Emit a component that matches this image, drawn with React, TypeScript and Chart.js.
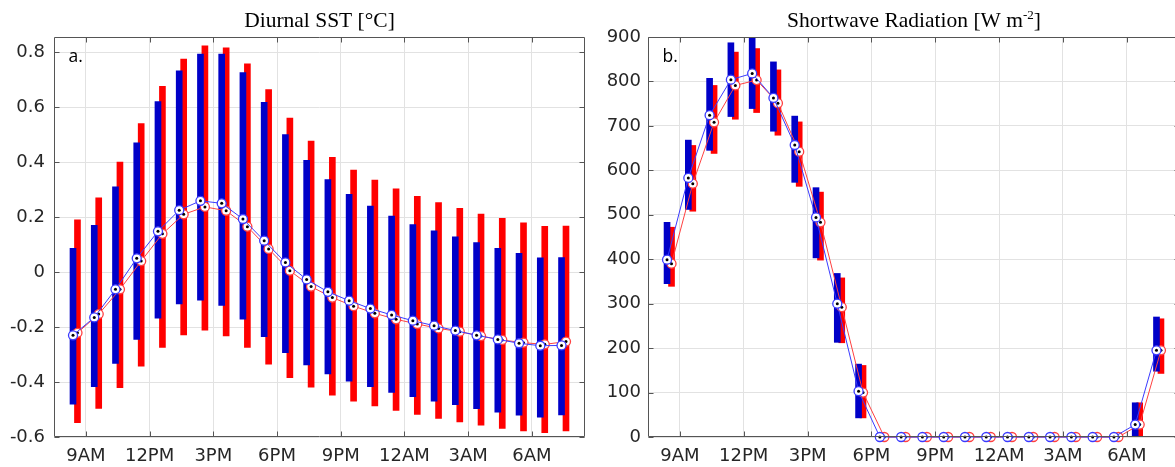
import React, { useEffect, useRef } from "react";
import { Chart, registerables } from "chart.js";

Chart.register(...registerables);

// Hourly bin centres, in hours from midnight of the first day (8:30 AM .. 7:30 AM next day)
const HOURS = [
  8.5, 9.5, 10.5, 11.5, 12.5, 13.5, 14.5, 15.5, 16.5, 17.5, 18.5, 19.5,
  20.5, 21.5, 22.5, 23.5, 24.5, 25.5, 26.5, 27.5, 28.5, 29.5, 30.5, 31.5,
];
// Paired series are drawn slightly either side of each bin centre
const PAIR_SHIFT = 0.105;

const X_TICKS = [9, 12, 15, 18, 21, 24, 27, 30];
const X_TICK_LABELS = ["9AM", "12PM", "3PM", "6PM", "9PM", "12AM", "3AM", "6AM"];

// ---- Diurnal SST [°C] ----
const SST_TICKS = [-0.6, -0.4, -0.2, 0, 0.2, 0.4, 0.6, 0.8];
const SST_TICK_LABELS = ["-0.6", "-0.4", "-0.2", "0", "0.2", "0.4", "0.6", "0.8"];
const SST_BLUE_MEAN = [
  -0.23, -0.165, -0.063, 0.05, 0.148, 0.225, 0.259, 0.25, 0.193, 0.114, 0.035, -0.027,
  -0.072, -0.104, -0.133, -0.156, -0.177, -0.195, -0.213, -0.23, -0.245, -0.259, -0.268, -0.267,
];
const SST_BLUE_LOW = [
  -0.481, -0.417, -0.332, -0.245, -0.168, -0.116, -0.102, -0.121, -0.171, -0.235, -0.293, -0.338,
  -0.371, -0.397, -0.417, -0.438, -0.453, -0.47, -0.482, -0.497, -0.51, -0.521, -0.528, -0.52,
];
const SST_BLUE_HIGH = [
  0.086, 0.17, 0.31, 0.47, 0.62, 0.732, 0.793, 0.793, 0.726, 0.617, 0.5, 0.406,
  0.336, 0.283, 0.24, 0.204, 0.173, 0.15, 0.128, 0.107, 0.086, 0.068, 0.052, 0.053,
];
const SST_RED_MEAN = [
  -0.221, -0.153, -0.063, 0.04, 0.139, 0.21, 0.237, 0.223, 0.165, 0.084, 0.005, -0.053,
  -0.093, -0.124, -0.15, -0.172, -0.189, -0.205, -0.217, -0.233, -0.247, -0.257, -0.263, -0.253,
];
const SST_RED_LOW = [
  -0.548, -0.496, -0.421, -0.342, -0.274, -0.229, -0.211, -0.232, -0.274, -0.335, -0.384, -0.419,
  -0.448, -0.47, -0.487, -0.503, -0.518, -0.532, -0.545, -0.557, -0.569, -0.578, -0.584, -0.578,
];
const SST_RED_HIGH = [
  0.19, 0.27, 0.4, 0.54, 0.676, 0.775, 0.823, 0.816, 0.757, 0.664, 0.56, 0.476,
  0.417, 0.371, 0.335, 0.303, 0.275, 0.253, 0.232, 0.211, 0.195, 0.179, 0.166, 0.167,
];

// ---- Shortwave radiation [W m-2] ----
const SW_TICKS = [0, 100, 200, 300, 400, 500, 600, 700, 800, 900];
const SW_TICK_LABELS = ["0", "100", "200", "300", "400", "500", "600", "700", "800", "900"];
const SW_BLUE_MEAN = [
  399, 583, 724, 804, 818, 763, 657, 494, 300, 103, 0, 0,
  0, 0, 0, 0, 0, 0, 0, 0, 0, 0, 28, 195,
];
const SW_BLUE_LOW = [
  345, 512, 645, 721, 739, 688, 573, 403, 213, 43, 0, 0,
  0, 0, 0, 0, 0, 0, 0, 0, 0, 0, 0, 148,
];
const SW_BLUE_HIGH = [
  483, 668, 807, 887, 900, 844, 722, 561, 368, 164, 0, 0,
  0, 0, 0, 0, 0, 0, 0, 0, 0, 0, 77, 270,
];
const SW_RED_MEAN = [
  390, 570, 708, 791, 803, 751, 642, 483, 292, 100, 0, 0,
  0, 0, 0, 0, 0, 0, 0, 0, 0, 0, 28, 195,
];
const SW_RED_LOW = [
  339, 508, 638, 715, 730, 679, 564, 398, 212, 43, 0, 0,
  0, 0, 0, 0, 0, 0, 0, 0, 0, 0, 0, 143,
];
const SW_RED_HIGH = [
  472, 656, 791, 866, 874, 826, 709, 551, 358, 161, 0, 0,
  0, 0, 0, 0, 0, 0, 0, 0, 0, 0, 77, 266,
];

const BLUE_BAR = "#0000c8";
const RED_BAR = "#ff0000";
const BLUE_LINE = "#3a3aff";
const RED_LINE = "#ff4040";
const TEXT = "#262626";
const GRID = "#e2e2e2";

type TitlePart = { text: string; sup?: boolean };

// Box frame with inward tick marks, panel letter and the serif title
const axesFrame = {
  id: "axesFrame",
  afterDraw(chart: any, _args: any, opts: any) {
    const { ctx, chartArea: a, scales } = chart;
    const L = Math.round(a.left) + 0.5;
    const R = Math.round(a.right) - 0.5;
    const T = Math.round(a.top) + 0.5;
    const B = Math.round(a.bottom) - 0.5;
    const tl = 5;
    ctx.save();
    ctx.strokeStyle = "#555";
    ctx.lineWidth = 1;
    ctx.beginPath();
    ctx.rect(L, T, R - L, B - T);
    scales.x.ticks.forEach((t: any) => {
      const px = Math.round(scales.x.getPixelForValue(t.value)) + 0.5;
      ctx.moveTo(px, B);
      ctx.lineTo(px, B - tl);
      ctx.moveTo(px, T);
      ctx.lineTo(px, T + tl);
    });
    scales.y.ticks.forEach((t: any) => {
      const py = Math.round(scales.y.getPixelForValue(t.value)) + 0.5;
      ctx.moveTo(L, py);
      ctx.lineTo(L + tl, py);
      ctx.moveTo(R, py);
      ctx.lineTo(R - tl, py);
    });
    ctx.stroke();

    ctx.fillStyle = "#000";
    ctx.textAlign = "left";
    ctx.textBaseline = "alphabetic";
    ctx.font = '17.5px "Open Sans"';
    ctx.fillText(opts.letter, a.left + 14.5, 62);

    const parts: TitlePart[] = opts.title;
    const mainFont = '21.5px "Liberation Serif"';
    const supFont = '13px "Liberation Serif"';
    let total = 0;
    const widths = parts.map((p) => {
      ctx.font = p.sup ? supFont : mainFont;
      const w = ctx.measureText(p.text).width;
      total += w;
      return w;
    });
    let x = (a.left + a.right) / 2 - total / 2;
    parts.forEach((p, i) => {
      ctx.font = p.sup ? supFont : mainFont;
      ctx.fillText(p.text, x, p.sup ? 19 : 27);
      x += widths[i];
    });
    ctx.restore();
  },
};

function points(vals: number[], shift: number) {
  return HOURS.map((h, i) => ({ x: h + shift, y: vals[i] }));
}

function ranges(low: number[], high: number[], shift: number) {
  return HOURS.map((h, i) => ({ x: h + shift, y: [low[i], high[i]] })).filter(
    (d) => d.y[1] > d.y[0]
  );
}

type PanelSpec = {
  blueMean: number[];
  blueLow: number[];
  blueHigh: number[];
  redMean: number[];
  redLow: number[];
  redHigh: number[];
  yMin: number;
  yMax: number;
  yTicks: number[];
  yTickLabels: string[];
  yAxisWidth: number;
  yLabelPad: number;
  rightPad: number;
  letter: string;
  title: TitlePart[];
};

function makeConfig(p: PanelSpec): any {
  const lineDs = (data: any[], color: string, order: number) => ({
    type: "line",
    data,
    order,
    clip: false,
    borderColor: color,
    borderWidth: 1,
    pointRadius: 4.5,
    pointBorderWidth: 1.3,
    pointBorderColor: color,
    pointBackgroundColor: "#ffffff",
    tension: 0,
  });
  const dotDs = (data: any[], order: number) => ({
    type: "line",
    data,
    order,
    clip: false,
    showLine: false,
    pointRadius: 1.5,
    pointBorderWidth: 0,
    pointBackgroundColor: "#000000",
  });
  const barDs = (data: any[], color: string, order: number) => ({
    type: "bar",
    data,
    order,
    backgroundColor: color,
    borderWidth: 0,
    barThickness: 6,
    grouped: false,
  });
  return {
    type: "bar",
    data: {
      datasets: [
        barDs(ranges(p.redLow, p.redHigh, PAIR_SHIFT), RED_BAR, 6),
        barDs(ranges(p.blueLow, p.blueHigh, -PAIR_SHIFT), BLUE_BAR, 5),
        lineDs(points(p.redMean, PAIR_SHIFT), RED_LINE, 4),
        dotDs(points(p.redMean, PAIR_SHIFT), 3),
        lineDs(points(p.blueMean, -PAIR_SHIFT), BLUE_LINE, 2),
        dotDs(points(p.blueMean, -PAIR_SHIFT), 1),
      ],
    },
    options: {
      responsive: false,
      animation: false,
      devicePixelRatio: 1,
      events: [],
      layout: { padding: { left: 0, right: p.rightPad, top: 37, bottom: 0 } },
      plugins: {
        legend: { display: false },
        title: { display: false },
        tooltip: { enabled: false },
        axesFrame: { letter: p.letter, title: p.title },
      },
      scales: {
        x: {
          type: "linear",
          min: 7.5,
          max: 32.5,
          offset: false,
          grid: { color: GRID, lineWidth: 1, drawTicks: false, offset: false },
          border: { display: false },
          afterBuildTicks: (s: any) => {
            s.ticks = X_TICKS.map((v) => ({ value: v }));
          },
          afterFit: (s: any) => {
            s.height = 30;
          },
          ticks: {
            autoSkip: false,
            maxRotation: 0,
            padding: 9,
            color: TEXT,
            font: { family: "DejaVu Sans", size: 18 },
            callback: (_v: any, i: number) => X_TICK_LABELS[i],
          },
        },
        y: {
          type: "linear",
          min: p.yMin,
          max: p.yMax,
          grid: { color: GRID, lineWidth: 1, drawTicks: false },
          border: { display: false },
          afterBuildTicks: (s: any) => {
            s.ticks = p.yTicks.map((v) => ({ value: v }));
          },
          afterFit: (s: any) => {
            s.width = p.yAxisWidth;
          },
          ticks: {
            padding: p.yLabelPad,
            color: TEXT,
            font: { family: "DejaVu Sans", size: 18 },
            callback: (_v: any, i: number) => p.yTickLabels[i],
          },
        },
      },
    },
    plugins: [axesFrame],
  };
}

export default function App() {
  const sstRef = useRef<HTMLCanvasElement>(null);
  const swRef = useRef<HTMLCanvasElement>(null);

  useEffect(() => {
    const sst = new Chart(
      sstRef.current as HTMLCanvasElement,
      makeConfig({
        blueMean: SST_BLUE_MEAN,
        blueLow: SST_BLUE_LOW,
        blueHigh: SST_BLUE_HIGH,
        redMean: SST_RED_MEAN,
        redLow: SST_RED_LOW,
        redHigh: SST_RED_HIGH,
        yMin: -0.6,
        yMax: 0.855,
        yTicks: SST_TICKS,
        yTickLabels: SST_TICK_LABELS,
        yAxisWidth: 54,
        yLabelPad: 9,
        rightPad: 15,
        letter: "a.",
        title: [{ text: "Diurnal SST [°C]" }],
      })
    );
    const sw = new Chart(
      swRef.current as HTMLCanvasElement,
      makeConfig({
        blueMean: SW_BLUE_MEAN,
        blueLow: SW_BLUE_LOW,
        blueHigh: SW_BLUE_HIGH,
        redMean: SW_RED_MEAN,
        redLow: SW_RED_LOW,
        redHigh: SW_RED_HIGH,
        yMin: 0,
        yMax: 900,
        yTicks: SW_TICKS,
        yTickLabels: SW_TICK_LABELS,
        yAxisWidth: 58,
        yLabelPad: 7,
        rightPad: 10,
        letter: "b.",
        title: [
          { text: "Shortwave Radiation [W m" },
          { text: "-2", sup: true },
          { text: "]" },
        ],
      })
    );
    return () => {
      sst.destroy();
      sw.destroy();
    };
  }, []);

  return (
    <div
      style={{
        position: "absolute",
        left: 0,
        top: 0,
        width: 1175,
        height: 467,
        overflow: "hidden",
        background: "#ffffff",
      }}
    >
      <canvas
        ref={sstRef}
        width={600}
        height={467}
        style={{ position: "absolute", left: 0, top: 0, width: 600, height: 467 }}
      />
      <canvas
        ref={swRef}
        width={600}
        height={467}
        style={{ position: "absolute", left: 590, top: 0, width: 600, height: 467 }}
      />
    </div>
  );
}
